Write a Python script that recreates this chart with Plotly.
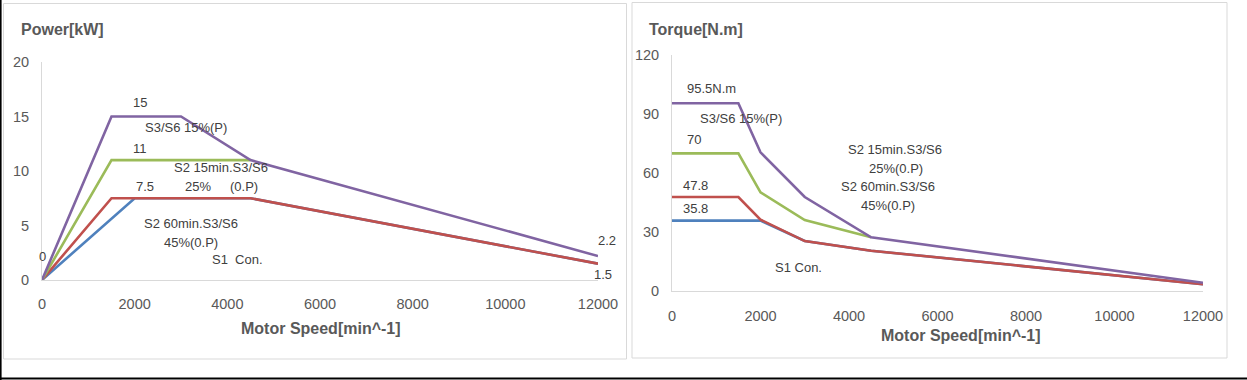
import plotly.graph_objects as go

W, H = 1247, 380

# ---------------- data ----------------
speed_s1_power = [0, 2000, 4500, 12000]
power_s1 = [0, 7.5, 7.5, 1.5]
speed_s2_60_power = [0, 1500, 4500, 12000]
power_s2_60 = [0, 7.5, 7.5, 1.5]
speed_s2_15_power = [0, 1500, 4500]
power_s2_15 = [0, 11, 11]
speed_s3_power = [0, 1500, 3000, 4500, 12000]
power_s3 = [0, 15, 15, 11, 2.2]

speed_s1_torque = [0, 2000, 3000, 4500, 12000]
torque_s1 = [35.8, 35.8, 25.4, 20.5, 3.4]
speed_s2_60_torque = [0, 1500, 2000, 3000, 4500, 12000]
torque_s2_60 = [47.8, 47.8, 36.3, 25.4, 20.5, 3.4]
speed_s2_15_torque = [0, 1500, 2000, 3000, 4500]
torque_s2_15 = [70, 70, 50.2, 36.1, 27.3]
speed_s3_torque = [0, 1500, 2000, 3000, 4500, 12000]
torque_s3 = [95.5, 95.5, 70.5, 47.8, 27.3, 4.2]

x_ticks = [0, 2000, 4000, 6000, 8000, 10000, 12000]
x_tick_labels = ["0", "2000", "4000", "6000", "8000", "10000", "12000"]
power_ticks = [0, 5, 10, 15, 20]
torque_ticks = [0, 30, 60, 90, 120]

C_BLUE = "#4F81BD"
C_RED = "#C0504D"
C_GREEN = "#9BBB59"
C_PURPLE = "#8064A2"

FONT = "Liberation Sans"
TICK_COL = "#595959"
TXT_COL = "#404040"

fig = go.Figure()

def add_line(x, y, color, xa, ya):
    fig.add_trace(go.Scatter(x=x, y=y, mode="lines", line=dict(color=color, width=2.6),
                             xaxis=xa, yaxis=ya, showlegend=False, hoverinfo="skip"))

# power chart
add_line(speed_s1_power, power_s1, C_BLUE, "x", "y")
add_line(speed_s2_60_power, power_s2_60, C_RED, "x", "y")
add_line(speed_s2_15_power, power_s2_15, C_GREEN, "x", "y")
add_line(speed_s3_power, power_s3, C_PURPLE, "x", "y")
# torque chart
add_line(speed_s1_torque, torque_s1, C_BLUE, "x2", "y2")
add_line(speed_s2_60_torque, torque_s2_60, C_RED, "x2", "y2")
add_line(speed_s2_15_torque, torque_s2_15, C_GREEN, "x2", "y2")
add_line(speed_s3_torque, torque_s3, C_PURPLE, "x2", "y2")

def px_x(p):
    return p / W

def px_y(p):
    return 1 - p / H

axis_common = dict(showgrid=False, zeroline=False, showline=True, linecolor="#D9D9D9",
                   linewidth=1, ticks="", automargin=False,
                   tickfont=dict(family=FONT, size=14.5, color=TICK_COL))

fig.update_layout(
    template="none",
    width=W, height=H, autosize=False, margin=dict(l=0, r=0, t=0, b=0, pad=0),
    paper_bgcolor="white", plot_bgcolor="white",
    xaxis=dict(domain=[px_x(42), px_x(598)], range=[0, 12000], tickvals=x_ticks,
               ticktext=x_tick_labels, anchor="y", ticklabelstandoff=11, **axis_common),
    yaxis=dict(domain=[px_y(280), px_y(62)], range=[0, 20], tickvals=power_ticks,
               anchor="x", ticklabelstandoff=9, **axis_common),
    xaxis2=dict(domain=[px_x(672), px_x(1203)], range=[0, 12000], tickvals=x_ticks,
                ticktext=x_tick_labels, anchor="y2", ticklabelstandoff=12, **axis_common),
    yaxis2=dict(domain=[px_y(291), px_y(55)], range=[0, 120], tickvals=torque_ticks,
                anchor="x2", ticklabelstandoff=9, **axis_common),
)

# panel frames
fig.add_shape(type="rect", xref="paper", yref="paper", x0=px_x(3.5), x1=px_x(626.5),
              y0=px_y(359), y1=px_y(3.5), line=dict(color="#D9D9D9", width=1), layer="below")
fig.add_shape(type="rect", xref="paper", yref="paper", x0=px_x(632), x1=px_x(1227),
              y0=px_y(358), y1=px_y(2.5), line=dict(color="#D9D9D9", width=1), layer="below")
# black outer edges
fig.add_shape(type="line", xref="paper", yref="paper", x0=px_x(0.8), x1=px_x(0.8),
              y0=0, y1=1, line=dict(color="black", width=1.6))
fig.add_shape(type="line", xref="paper", yref="paper", x0=0, x1=1,
              y0=px_y(378.5), y1=px_y(378.5), line=dict(color="black", width=2))

def ann(text, x, y, xref="x", yref="y", size=13, bold=False, col=TXT_COL, xanchor="center"):
    fig.add_annotation(text=("<b>%s</b>" % text) if bold else text, x=x, y=y, xref=xref, yref=yref,
                       showarrow=False, xanchor=xanchor, yanchor="middle",
                       font=dict(family=FONT, size=size, color=col))

# titles
ann("Power[kW]", px_x(19), px_y(29), "paper", "paper", size=16, bold=True, col=TICK_COL, xanchor="left")
ann("Torque[N.m]", px_x(647), px_y(29), "paper", "paper", size=16, bold=True, col=TICK_COL, xanchor="left")
ann("Motor Speed[min^-1]", px_x(321), px_y(328), "paper", "paper", size=16, bold=True, col=TICK_COL)
ann("Motor Speed[min^-1]", px_x(961), px_y(335), "paper", "paper", size=16, bold=True, col=TICK_COL)

# power labels
ann("15", 2115, 16.3)
ann("S3/S6 15%(P)", 3108, 14.0)
ann("11", 2115, 12.1)
ann("S2 15min.S3/S6", 3863, 10.3)
ann("7.5", 2223, 8.6)
ann("25%", 3367, 8.6)
ann("(0.P)", 4360, 8.6)
ann("S2 60min.S3/S6", 3216, 5.15)
ann("45%(0.P)", 3210, 3.4)
ann("S1  Con.", 4230, 1.9)
ann("0", 0, 2.15)
# end labels sit just past the axis end, so place them in paper space
ann("2.2", px_x(606.5), px_y(240.5), "paper", "paper")
ann("1.5", px_x(603), px_y(274), "paper", "paper")

# torque labels
ann("95.5N.m", 893, 103, "x2", "y2")
ann("S3/S6 15%(P)", 1556, 87.8, "x2", "y2")
ann("70", 497, 77.1, "x2", "y2")
ann("47.8", 542, 53.9, "x2", "y2")
ann("35.8", 520, 42, "x2", "y2")
ann("S2 15min.S3/S6", 5033, 71.7, "x2", "y2")
ann("25%(0.P)", 5055, 62.4, "x2", "y2")
ann("S2 60min.S3/S6", 4881, 53, "x2", "y2")
ann("45%(0.P)", 4888, 43.4, "x2", "y2")
ann("S1 Con.", 2863, 12, "x2", "y2")

fig.write_html(
    "out.html",
    config={"responsive": False, "displayModeBar": False},
    post_script="document.body.style.margin='0';document.body.style.overflow='hidden';",
)
